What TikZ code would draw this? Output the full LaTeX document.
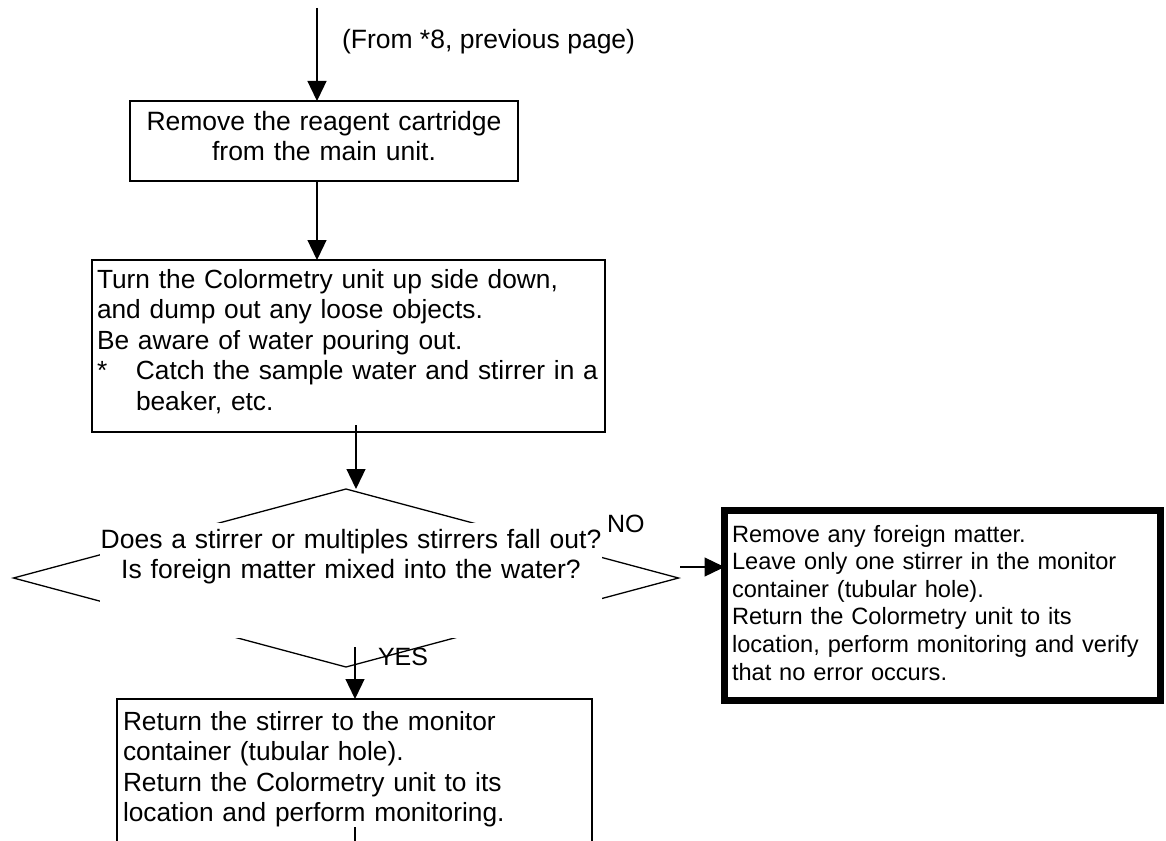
\documentclass[tikz,border=0pt]{standalone}
\usepackage{fontspec}
\setmainfont{Liberation Sans}
\usetikzlibrary{arrows.meta,shapes.geometric}
\setlength{\lineskiplimit}{-100pt}
\newcommand{\fitline}[1]{\makebox[\linewidth][c]{#1}}
\begin{document}
\begin{tikzpicture}[x=1pt,y=-1pt,
  thinline/.style={line width=1.3pt},
  flow/.style={thinline,-{Triangle[length=20pt,width=19pt]}},
  stepbox/.style={draw,thinline,inner sep=0pt,outer sep=0pt,anchor=north west},
  bigfont/.style={font=\fontsize{26.5}{30}\selectfont},
  boxfont/.style={font=\fontsize{26.3}{30.6}\selectfont},
  smallfont/.style={font=\fontsize{23.6}{27.6}\selectfont},
  label/.style={inner sep=0pt,outer sep=0pt,anchor=base west}
]
\useasboundingbox (0,0) rectangle (1166,840);
\clip (0,0) rectangle (1166,840);

% incoming connector and its note
\coordinate (entry) at (317,8);
\node[label,bigfont] (fromlbl) at (342,49) {(From *8, previous page)};

% step 1
\node[stepbox,bigfont,align=center,text width=388pt,
      text height=29pt,text depth=51pt] (box1) at (130,101)
  {Remove the reagent cartridge\\from the main unit.};

% step 2
\node[stepbox,boxfont,align=left,inner xsep=5pt,text width=503pt,
      text height=28pt,text depth=144pt] (box2) at (92,260)
  {Turn the Colormetry unit up side down,\\
   and dump out any loose objects.\\
   Be aware of water pouring out.\\
   \makebox[39pt][l]{*}Catch the sample water and stirrer in a\\
   \hspace*{39pt}beaker, etc.};

% decision: the diamond, partly hidden behind its white text panel
\node[diamond,draw,thinline,inner sep=0pt,outer sep=0pt,
      minimum width=665pt,minimum height=178pt] (dec) at (346,578) {};
\node[fill=white,inner sep=0pt,outer sep=0pt,anchor=north west,
      bigfont,align=center,text width=502pt,
      text height=25pt,text depth=90pt] (question) at (100,523)
  {\fitline{Does a stirrer or multiples stirrers fall out?}\\
   \fitline{Is foreign matter mixed into the water?}};

% NO branch
\node[stepbox,line width=7pt,smallfont,align=left,inner xsep=7.5pt,
      text width=421pt,text height=31.5pt,text depth=158.5pt] (box3) at (724.5,510.5)
  {Remove any foreign matter.\\
   Leave only one stirrer in the monitor\\
   container (tubular hole).\\
   Return the Colormetry unit to its\\
   location, perform monitoring and verify\\
   that no error occurs.};

% YES branch
\node[stepbox,boxfont,align=left,inner xsep=6pt,text width=463pt,
      text height=31pt,text depth=130pt] (box4) at (117,699)
  {Return the stirrer to the monitor\\
   container (tubular hole).\\
   Return the Colormetry unit to its\\
   location and perform monitoring.};

\node[label,font=\fontsize{25}{30}\selectfont] (nolbl) at (607,532) {NO};
\node[label,font=\fontsize{25}{30}\selectfont] (yeslbl) at (378,665) {YES};

% connectors
\coordinate (c2) at (356,425);
\coordinate (nofrom) at (680,567);
\coordinate (yesfrom) at (355,647);
\coordinate (out4) at (355,827);
\coordinate (next) at (355,860);

\draw[flow] (entry) -- (entry |- box1.north);
\draw[flow] (box1.south -| entry) -- (box2.north -| entry);
\draw[flow] (c2) -- (c2 |- dec.north);
\draw[flow] (nofrom) -- (nofrom -| box3.west);
\draw[flow] (yesfrom) -- (yesfrom |- box4.north);
\draw[thinline] (out4) -- (next);
\end{tikzpicture}
\end{document}
